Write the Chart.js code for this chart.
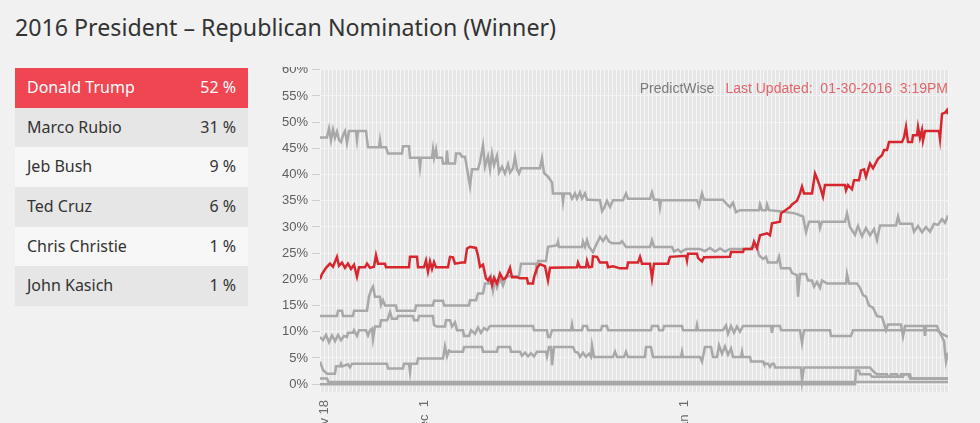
<!DOCTYPE html>
<html>
<head>
<meta charset="utf-8">
<title>2016 President - Republican Nomination (Winner)</title>
<script src="https://cdn.jsdelivr.net/npm/chart.js@4.4.1/dist/chart.umd.min.js"></script>
<style>
    html, body { margin: 0; padding: 0; }
    body {
        width: 980px; height: 423px; overflow: hidden; position: relative;
        background: #f1f1f1; font-family: "Noto Sans", sans-serif; color: #333;
    }
    .title { position: absolute; left: 15px; top: 12px; font-size: 23.2px; line-height: 30px; white-space: nowrap; }
    .board { position: absolute; left: 15px; top: 68px; width: 233px; }
    .row { height: 39.7px; line-height: 39.7px; font-size: 16px; padding: 0 12px; display: flex; justify-content: space-between; }
    .row:nth-child(even) { background: #e6e6e6; }
    .row:nth-child(odd) { background: #f7f7f7; }
    .row.lead { background: #ef4651; color: #fff; }
    .plot { position: absolute; left: 270px; top: 67px; width: 690px; height: 356px; overflow: hidden; }
    .plot canvas { display: block; margin-top: -9px; }
</style>
</head>
<body>
<div class="title">2016 President – Republican Nomination (Winner)</div>
<div class="board" id="board"></div>
<div class="plot"><canvas id="nomChart" width="690" height="394"></canvas></div>

<script>
// table
const candidates = ["Donald Trump", "Marco Rubio", "Jeb Bush", "Ted Cruz", "Chris Christie", "John Kasich"];
const latest = [52, 31, 9, 6, 1, 1];

// x = snapshot index (0..157), y = chance in %
const trump = [[0,20],[0.5,21],[1.5,22.2],[2.5,23],[3.25,22.4],[4.25,24.3],[4.75,22.6],[5.5,23.2],[6.25,22.2],[7,23],[7.75,22],[8.5,22.8],[9.25,20.5],[9.75,22.3],[11.25,22.3],[11.75,23],[12.5,22.2],[13.5,22.4],[14,24.6],[14.5,23],[16.25,23],[16.5,22.3],[22.25,22.3],[22.5,24.3],[24.25,24.3],[24.5,22.3],[26,22.3],[26.5,23.6],[27,21.5],[27.5,23.4],[28,22],[28.5,23.3],[29,22.3],[32,22.3],[32.5,24.3],[33.25,24.2],[33.75,23],[35.5,23.2],[36.25,23.2],[36.75,25.9],[37.5,26.2],[39,26],[39.5,24.5],[40,22.4],[40.75,22.8],[41.5,20.2],[42,19.8],[42.5,20.4],[43,18.9],[43.5,20.3],[44.25,19.2],[45,21.1],[45.75,20],[46.5,20.3],[47.5,22.2],[48,20.4],[49.25,20.4],[50,20.2],[51.75,20.2],[52,19.2],[53.25,19.2],[53.5,20.4],[54.25,22.2],[55,22.9],[56.25,22.5],[57,19.8],[57.5,22.2],[64.25,22.3],[64.5,23.2],[65,22.3],[66.5,22.3],[66.75,23.5],[67.25,22.3],[68,22.4],[68.25,24.4],[69.25,24.3],[70,23.2],[71.75,23.2],[72,22.3],[73.25,22.5],[75,22.1],[76.75,22.1],[77,23.2],[79.5,23.2],[80,24.3],[80.5,23],[82.5,23],[83,20.2],[83.5,23],[87,23],[87.5,24.3],[91.5,24.5],[91.75,23.6],[92,24.9],[94.25,24.9],[94.5,24.1],[95.5,23.4],[96,24.2],[102.5,24.3],[102.75,25.2],[105.75,25.2],[106,25.8],[108,25.8],[108.5,27.2],[109.25,26],[110,28.4],[111.75,28.8],[112.5,28.4],[113,30.7],[115,31],[115.25,32.6],[117.5,33.8],[118,34.3],[119.25,35],[120,36.4],[120.5,37.7],[121,36.4],[123,36.4],[123.75,40.2],[124.25,39.3],[125,37.7],[125.75,35.8],[126.25,38],[131.25,38],[131.5,37],[132,38],[133,37.2],[133.5,38.9],[134.75,38.9],[135.25,40.8],[136,41],[136.5,39.6],[137.5,42.1],[138.25,41.2],[139.5,43],[140.5,43.7],[141,44.7],[141.75,44.7],[142.25,46.2],[145.5,46.2],[146,47.1],[146.5,49.1],[147,46.2],[148,46.2],[148.25,47.5],[149.25,47.5],[149.5,49.1],[150,47],[150.5,48.5],[150.75,46.5],[151.25,48.3],[154.75,48.3],[155,46.8],[155.5,51.6],[156.25,51.8],[156.75,52.3],[157,51.5]];

const rubio = [[0,47.1],[1.75,47.1],[2.25,48.8],[2.75,46.5],[3.25,48.6],[3.75,47],[4.25,48.2],[4.75,46.6],[5.25,46.2],[5.75,47.5],[6.25,48.3],[6.75,46],[7.25,48.3],[9,48.3],[9.25,46.6],[9.5,48.3],[11.5,48.3],[12,45.2],[14.75,45.2],[15,46.6],[15.25,45.2],[16.5,45.2],[17,44],[20.5,44],[20.75,45.4],[22.25,45.4],[22.5,43.2],[24.75,43.2],[25,41.4],[25.25,43.2],[28,43.2],[28.25,44.8],[28.5,43.2],[29,44.8],[29.25,43.2],[30.5,43.2],[30.75,42.1],[31.5,42.1],[31.75,44.6],[32,42.1],[33.75,42.1],[34,44],[35,44],[35.5,43.4],[36.25,43.4],[36.75,41.2],[37.5,37.8],[38,41],[39.5,41],[40,42.4],[40.75,45.6],[41.25,41.5],[42,43.5],[42.5,41],[43,44],[43.5,41.8],[44.25,43.6],[44.75,40.4],[45.5,41.5],[46.25,40.2],[47,42],[47.5,40.4],[48.25,41.2],[48.75,43.4],[49.25,41],[49.75,40.2],[50.25,41.2],[55,41.2],[55.5,43.1],[56,40.3],[57,39.6],[58,38.5],[58.25,36.4],[60.5,36.4],[60.75,34.8],[61,36.4],[62.5,36.4],[63,35.4],[63.75,36.4],[64.25,35.4],[65,36.6],[65.5,35.4],[66.25,36.4],[66.75,35.2],[67.5,35.2],[70,35.1],[70.5,33],[71,33.6],[71.75,35],[72.5,33.8],[73.25,35.1],[75.75,35.1],[76.5,36.4],[77,35.4],[82.5,35.4],[83,36.6],[83.5,35.2],[84.75,35.2],[85,33.8],[85.25,35.1],[94.25,35.1],[94.75,34],[95.5,36.4],[96,35.2],[100.75,35.2],[101.75,34.3],[102.5,33.8],[103.25,34.6],[104,32.8],[105,33.2],[109.75,33.2],[110,34.3],[110.5,33.2],[111.5,33.2],[111.75,34.3],[112.25,33.2],[115,33],[118.75,32.6],[120.75,32],[121.5,29],[122.25,31],[124.75,31],[125,29.8],[125.5,31],[131.25,31],[131.75,32.6],[132.5,30],[133.75,28.5],[134.5,30.2],[135.5,28.2],[136.5,29.8],[137.5,28.4],[138.5,29.6],[139.25,27.5],[140,30.3],[144,30.3],[144.5,32],[145,30.6],[148,30.6],[148.5,29.1],[149.5,30.2],[150.5,29],[151.5,30],[152.5,29.1],[153.5,30.6],[154.5,30.4],[155.5,31.5],[156.25,30.8],[157,32.2]];

const cruz = [[0,13],[4.25,13],[4.5,14],[5.5,14],[5.75,13],[8.25,13],[8.5,14],[11.75,14],[12.25,16.7],[12.75,17.9],[13.25,18.6],[13.75,16.7],[15,16.7],[15.25,15.1],[15.75,16],[16.25,15],[19,15],[19.25,14],[23.75,14],[24,15],[28.25,15],[28.5,15.9],[30.75,15.9],[31,15],[37.25,15],[37.5,16],[39,16],[39.5,17.3],[40.75,17.3],[41.25,19.2],[42.25,19.2],[42.75,20.4],[43.25,17.9],[43.75,20],[44.25,18.5],[45,20.2],[45.75,18.8],[46.5,20.6],[49.75,20.6],[50.25,23],[54,23],[54.25,21.8],[54.5,23.5],[56.5,23.5],[57,26.2],[59.25,26.5],[59.5,27.2],[59.75,26.2],[65.5,26.2],[65.75,27.2],[66.25,26.2],[66.75,27.5],[67.25,26.2],[68.25,25.2],[69,26.5],[70,28.1],[70.75,27.3],[71.5,28.2],[72.25,27.2],[73,26.9],[75,26.9],[75.5,27.3],[76.5,26.2],[82.5,26.2],[83,27.5],[83.5,26.2],[88,26.2],[88.5,25.3],[89.5,25.7],[90.25,25.2],[91,25.6],[91.75,25.8],[95,25.8],[96.25,25.4],[97.5,26],[98.75,25.3],[100,25.9],[101.25,25.3],[102.5,25.8],[107.5,25.8],[108,26.2],[109.25,26.2],[109.75,24.6],[110.75,23.9],[111.5,24.3],[112,23.2],[114.25,23.2],[114.75,24.3],[115.25,22.1],[117.5,22.1],[118,21.2],[119.25,20.8],[119.5,16.7],[120,21],[121.5,21],[122,19.8],[123,19.8],[123.5,18.6],[124.25,19.5],[125,18.4],[125.5,19.8],[126.75,19.2],[131.5,19.2],[131.75,21],[132.25,19.2],[134.25,19.2],[135,18.4],[135.75,17],[136.5,16.7],[137.25,15],[138.25,14.6],[139.25,13],[140.5,12.8],[141,11.6],[141.5,10.3],[142,11.4],[145.25,11.4],[145.75,9.1],[146.25,11.1],[151,11.1],[151.25,9.2],[151.5,11.1],[154.25,11.1],[154.75,10.1],[155.5,9],[156,8.2],[156.5,4.3],[157,6]];

const bush = [[0,9],[0.75,8.4],[1.5,9.4],[2.25,8],[3,9.3],[3.75,8.2],[4.5,9.4],[5.25,8.4],[6,9.2],[6.75,9],[7,9.8],[8.25,9.8],[8.5,10.3],[9.25,9.2],[9.75,10.3],[11.5,10.3],[12,9.3],[12.5,10.3],[13,10.6],[13.25,8.6],[13.75,11],[15,11],[15.25,12.2],[16.75,12.2],[17,12.5],[17.5,13.8],[18,12.5],[19.25,12.5],[19.5,13],[23.25,13],[23.5,12.2],[24.5,12.2],[24.75,13],[28.25,13],[28.5,11.3],[29.25,11],[31.25,11],[31.5,12.2],[32.5,12.2],[33,11],[33.75,11.8],[34.25,10.3],[35.75,10.3],[36,9.2],[37.25,9.2],[37.75,10.3],[38.75,9.6],[39.5,10.8],[40.25,9.8],[41,10.7],[41.75,10.3],[42.5,11.1],[53.25,11.1],[53.5,10.3],[56.75,10.3],[57,9],[57.5,9],[58,10.3],[62.75,10.3],[63,11.4],[63.25,10.3],[65.5,10.3],[65.75,11.1],[66.75,11.1],[67,10.3],[70.25,10.3],[70.5,11.1],[71.75,11.1],[72,10.3],[82.75,10.3],[83,11.1],[84.5,11.1],[84.75,10.3],[85.75,10.3],[86,11.1],[90.5,11.1],[90.75,10.3],[94,10.3],[94.25,11.3],[94.5,10.3],[100.75,10.3],[101.5,11.2],[102,9.6],[102.75,11.1],[103.5,9.8],[104.25,11],[105,10],[105.75,11.1],[112.75,11.1],[113,9.8],[113.25,11.1],[115,11.1],[115.25,10.3],[120,10.3],[120.5,7.8],[121,10.3],[127.5,10.3],[127.75,9.2],[132.75,9.2],[133.25,10.3],[154.25,10.3],[155.5,9.6],[157,9]];

const christie = [[0,4.3],[0.75,2.7],[1.75,2],[3.75,2],[4,3.4],[5,3.4],[5.25,3.9],[5.5,3.4],[7,3.8],[7.5,3.2],[8,3.9],[16.75,3.9],[17,3],[20.75,3],[21,3.9],[22.25,3.9],[22.5,2.3],[22.75,3.9],[24.25,3.9],[24.5,4.9],[30.75,4.9],[31.25,7.2],[31.75,5.3],[32.25,6.4],[32.75,6.2],[35.75,6.2],[36,7.1],[40.5,7.1],[40.75,6.2],[44.25,6.2],[44.5,7.1],[47.5,7.1],[47.75,6.2],[50,6.2],[50.5,5.4],[51.25,6],[52,5.3],[52.75,5.9],[53.5,5.3],[54.25,6.2],[56.5,6.2],[56.75,5.3],[57,6.2],[57.25,7.1],[57.75,7.1],[58,3.6],[58.5,7.1],[63.25,7.1],[63.75,6.2],[64.5,6],[65,5.2],[65.75,6],[66.5,5.2],[67.25,5.8],[67.75,5.2],[68,7.4],[68.5,5.2],[73.25,5.2],[73.75,6.2],[74.25,5.2],[76,5.2],[76.5,6.2],[77,5.2],[81.25,5.2],[81.5,7.1],[82.75,7.1],[83.25,5.2],[90.25,5.2],[90.5,6.2],[90.75,5.2],[95,5.2],[95.5,4.3],[96.25,7.1],[97.75,7.1],[98.25,5.2],[99.25,5.2],[99.75,7.4],[100.5,5.8],[101.25,7.2],[102,5.6],[102.75,6.8],[103.25,5.2],[105.25,5.2],[105.5,6.2],[105.75,5.2],[107.5,5.2],[107.75,4.3],[110.75,4.3],[111,3.9],[112,3.9],[112.5,3.3],[113,3.9],[113.5,3.9],[113.75,3.2],[120.25,3.2],[120.5,0.6],[121,3.2],[137.5,3.2],[138.25,2.5],[139.25,1.9],[141.75,1.9],[142,1.4],[145,1.4],[145.25,1.9],[147.5,1.9],[147.75,1.1],[157,1.1]];

const kasich = [[0,0],[133.75,0],[134,2.6],[134.75,2.6],[135,1.9],[137.5,1.9],[138,1.4],[142.5,1.4],[142.75,1.9],[144.25,1.9],[144.5,1.4],[145.75,1.4],[146,1.9],[147,1.9],[147.5,1.1],[157,1.1]];

const carson = [[0,1.1],[1.75,1.1],[2.1,0.4],[157,0.4]];

const tickIndex = [1, 26, 91];
const tickText = ["Nov 18", "Dec  1", "Jan  1"];
const yTicks = [0, 5, 10, 15, 20, 25, 30, 35, 40, 45, 50, 55, 60];

// leaderboard
const board = document.getElementById("board");
candidates.forEach((name, i) => {
    const row = document.createElement("div");
    row.className = i === 0 ? "row lead" : "row";
    row.innerHTML = `<span>${name}</span><span>${latest[i]} %</span>`;
    board.appendChild(row);
});

const toPts = arr => arr.map(p => ({ x: p[0], y: p[1] }));
const GRAY = "#a8a8a8";
const RED = "#d8262e";

function line(label, arr, color) {
    return { label: label, data: toPts(arr), borderColor: color, borderWidth: 2.5, pointRadius: 0, tension: 0, fill: false };
}

// gray plot background + source note
const plotDecor = {
    id: "plotDecor",
    beforeDraw(chart) {
        const a = chart.chartArea, ctx = chart.ctx;
        ctx.save();
        ctx.fillStyle = "#e6e6e6";
        ctx.fillRect(a.left, a.top, a.right - a.left, a.bottom - a.top);
        ctx.restore();
    },
    afterDraw(chart) {
        const a = chart.chartArea, ctx = chart.ctx;
        ctx.save();
        ctx.font = '14px "Liberation Sans", Arial, sans-serif';
        ctx.textAlign = "right";
        ctx.textBaseline = "alphabetic";
        const note = "Last Updated:  01-30-2016  3:19PM";
        ctx.fillStyle = "#e3666d";
        ctx.fillText(note, a.right, a.top + 23);
        const w = ctx.measureText(note).width;
        ctx.fillStyle = "#7b7b7b";
        ctx.fillText("PredictWise", a.right - w - 11, a.top + 23);
        ctx.restore();
    }
};

new Chart(document.getElementById("nomChart"), {
    type: "line",
    data: {
        datasets: [
            line("Donald Trump", trump, RED),
            line("Marco Rubio", rubio, GRAY),
            line("Ted Cruz", cruz, GRAY),
            line("Jeb Bush", bush, GRAY),
            line("Chris Christie", christie, GRAY),
            line("John Kasich", kasich, GRAY),
            line("Ben Carson", carson, GRAY)
        ]
    },
    options: {
        responsive: false,
        animation: false,
        layout: { padding: { top: 10, right: 12, left: 0, bottom: 0 } },
        plugins: { legend: { display: false }, tooltip: { enabled: false } },
        scales: {
            x: {
                type: "linear",
                min: 0,
                max: 157,
                border: { display: false },
                grid: { color: "#f7f7f7", lineWidth: 1, drawTicks: false },
                afterFit: s => { s.height = 60; s.paddingLeft = 0; s.paddingRight = 0; },
                ticks: {
                    stepSize: 1,
                    autoSkip: false,
                    minRotation: 90,
                    maxRotation: 90,
                    padding: 8,
                    color: "#6a6a6a",
                    font: { family: '"Liberation Sans", Arial, sans-serif', size: 13 },
                    callback: v => { const i = tickIndex.indexOf(v); return i >= 0 ? tickText[i] : ""; }
                }
            },
            y: {
                min: -1.5,
                max: 60,
                border: { display: false },
                grid: { color: "#f3f3f3", tickColor: "#cfcfcf", tickLength: 8 },
                afterFit: s => { s.width = 50; },
                afterBuildTicks: s => { s.ticks = yTicks.map(v => ({ value: v })); },
                ticks: {
                    padding: 4,
                    color: "#5e5e5e",
                    font: { family: '"Liberation Sans", Arial, sans-serif', size: 13 },
                    callback: v => v + "%"
                }
            }
        }
    },
    plugins: [plotDecor]
});
</script>
</body>
</html>
